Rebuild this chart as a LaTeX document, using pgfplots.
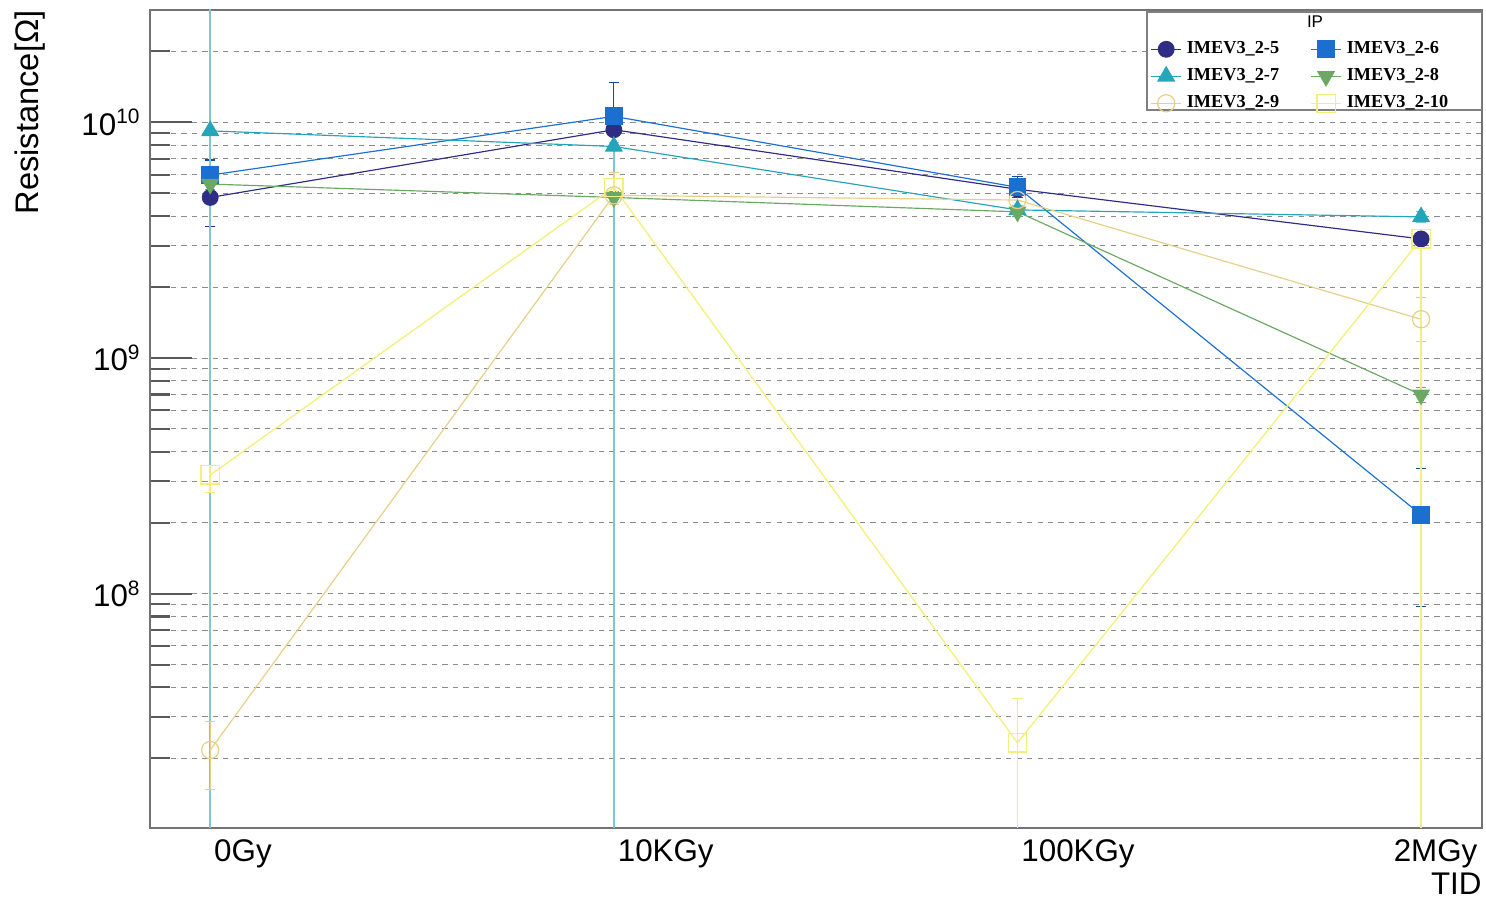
\documentclass[border=0pt]{standalone}
\usepackage{pgfplots}
\usepackage{pgfplotstable}
\pgfplotsset{compat=1.18}
\usepackage{fontspec}
\setmainfont{Liberation Sans}
\newfontfamily\serifb{Liberation Serif}

\definecolor{cA}{HTML}{2E2C85}
\definecolor{cB}{HTML}{1A6FD0}
\definecolor{cC}{HTML}{25A5BA}
\definecolor{cD}{HTML}{6BA864}
\definecolor{cE}{HTML}{E6CF86}
\definecolor{cF}{HTML}{F3EF78}

% x  y  error+  error-
\pgfplotstableread{
x y ep em
0 4.8e9  1.0e9  1.2e9
1 9.3e9  0.5e9  0.5e9
2 5.2e9  0.4e9  0.4e9
3 3.2e9  0.2e9  0.2e9
}\tabA
\pgfplotstableread{
x y ep em
0 5.97e9 0.95e9 0.6e9
1 1.06e10 0.41e10 0.3e10
2 5.3e9  0.6e9  0.5e9
3 2.16e8 1.24e8 1.28e8
}\tabB
\pgfplotstableread{
x y ep em
0 9.2e9  1e11   9.199e9
1 7.9e9  0.3e9  7.899e9
2 4.25e9 0.2e9  0.2e9
3 3.97e9 0.2e9  0.2e9
}\tabC
\pgfplotstableread{
x y ep em
0 5.47e9 0.3e9 0.3e9
1 4.8e9  0.3e9 0.3e9
2 4.17e9 0.2e9 0.2e9
3 6.98e8 0.5e8 0.5e8
}\tabD
\pgfplotstableread{
x y ep em
0 2.17e7 0.7e7  0.7e7
1 4.9e9  1.2e9  0.4e9
2 4.68e9 0.3e9  0.3e9
3 1.46e9 0.35e9 0.29e9
}\tabE
\pgfplotstableread{
x y ep em
0 3.19e8 0.3e8  0.5e8
1 5.3e9  0.5e9  0.5e9
2 2.33e7 1.27e7 2.32e7
3 3.2e9  0.3e9  3.199e9
}\tabF

\begin{document}
\begin{tikzpicture}
\begin{axis}[
  scale only axis, width=510.3pt, height=313.4pt,
  xmin=-0.149, xmax=3.151,
  ymode=log, ymin=1.014e7, ymax=3e10,
  xtick={0,1,2,3}, xticklabels={0Gy,10KGy,100KGy,\hspace*{-12pt}2MGy},
  xticklabel style={anchor=north west, xshift=-2pt, yshift=-1pt},
  major x tick style={draw=none},
  ytick={1e8,1e9,1e10},
  yticklabels={10\textsuperscript{8},10\textsuperscript{9},10\textsuperscript{10}},
  minor ytick={2e7,3e7,4e7,5e7,6e7,7e7,8e7,9e7,2e8,3e8,4e8,5e8,6e8,7e8,8e8,9e8,2e9,3e9,4e9,5e9,6e9,7e9,8e9,9e9,2e10,3e10},
  ytick pos=left, tick align=inside,
  major tick length=16pt, minor tick length=7.7pt,
  every tick/.style={black!65, line width=0.8pt},
  ymajorgrids, yminorgrids,
  grid style={black!45, dash pattern=on 2pt off 2pt, line width=0.35pt},
  minor grid style={black!45, dash pattern=on 2pt off 2pt, line width=0.35pt},
  axis line style={black!55, line width=0.8pt},
  tick label style={font=\fontsize{12}{14}\selectfont},
  ylabel={Resistance[Ω]},
  ylabel style={at={(axis description cs:-0.090,1)}, anchor=east, inner sep=0pt, font=\fontsize{12.5}{14}\selectfont},
  xlabel={TID},
  xlabel style={at={(axis description cs:1,0)}, anchor=north east, inner sep=0pt, yshift=-17pt, font=\fontsize{12}{14}\selectfont},
  legend columns=2,
  legend cell align=left,
  legend style={draw=none, fill=none, at={(axis description cs:0.745,0.975)}, anchor=north west,
    font=\serifb\bfseries\fontsize{7}{8}\selectfont, row sep=0.2pt,
    /tikz/every even column/.append style={column sep=10pt}},
  legend image code/.code={\draw[mark repeat=2,mark phase=2] plot coordinates {(0cm,0cm)(0.2cm,0cm)(0.4cm,0cm)};},
  error bars/y dir=both, error bars/y explicit,
  error bars/error mark options={rotate=90, mark size=2pt, line width=0.4pt},
]
\addplot[cA, line width=0.45pt, mark=*, mark size=3pt, mark options={fill=cA},
  error bars/error bar style={cA, line width=0.4pt}]
  table[x=x, y=y, y error plus=ep, y error minus=em] {\tabA};
\addlegendentry{IMEV3\_2-5}
\addplot[cB, line width=0.45pt, mark=square*, mark size=3.2pt, mark options={fill=cB},
  error bars/error bar style={cB!70!black, line width=0.4pt}]
  table[x=x, y=y, y error plus=ep, y error minus=em] {\tabB};
\addlegendentry{IMEV3\_2-6}
\addplot[cC, line width=0.45pt, mark=triangle*, mark size=3.6pt, mark options={fill=cC},
  error bars/error bar style={cC!60, line width=0.6pt}]
  table[x=x, y=y, y error plus=ep, y error minus=em] {\tabC};
\addlegendentry{IMEV3\_2-7}
\addplot[cD, line width=0.45pt, mark=triangle*, mark size=3.6pt, mark options={fill=cD, rotate=180},
  error bars/error bar style={cD, line width=0.4pt}]
  table[x=x, y=y, y error plus=ep, y error minus=em] {\tabD};
\addlegendentry{IMEV3\_2-8}
\addplot[cE, line width=0.45pt, mark=o, mark size=3.3pt,
  error bars/error bar style={cE, line width=0.5pt}]
  table[x=x, y=y, y error plus=ep, y error minus=em] {\tabE};
\addlegendentry{IMEV3\_2-9}
\addplot[cF, line width=0.5pt, mark=square, mark size=3.5pt,
  error bars/error bar style={cF, line width=0.6pt}]
  table[x=x, y=y, y error plus=ep, y error minus=em] {\tabF};
\addlegendentry{IMEV3\_2-10}
\draw[black!50, line width=0.6pt, fill=white] (axis description cs:0.7485,0.8778) rectangle (axis description cs:1,0.9976);
\node[font=\fontsize{6.5}{7}\selectfont, inner sep=0pt] at (axis description cs:0.8746,0.9853) {IP};
\end{axis}
\path ([xshift=-57.5pt, yshift=-29.5pt]current axis.south west) rectangle ([xshift=1.5pt, yshift=3.8pt]current axis.north east);
\end{tikzpicture}
\end{document}
